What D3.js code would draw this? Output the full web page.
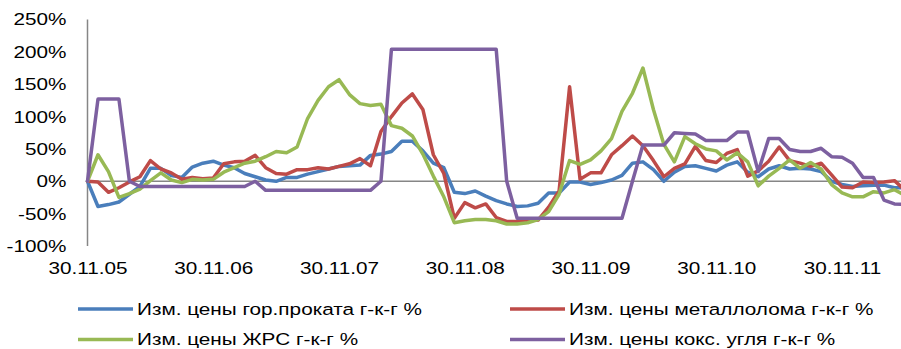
<!DOCTYPE html>
<html>
<head>
<meta charset="utf-8">
<script src="https://cdn.jsdelivr.net/npm/d3@7"></script>
<style>
  html, body { margin: 0; padding: 0; background: #fff; }
  svg { display: block; font-family: "Liberation Sans", Arial, sans-serif; }
</style>
</head>
<body>
<svg id="chart" width="901" height="349"></svg>
<script>
// ---------- DATA ----------
const categories = [
  "30.11.05","31.12.05",
  "31.01.06","28.02.06","31.03.06","30.04.06","31.05.06","30.06.06","31.07.06","31.08.06","30.09.06","31.10.06","30.11.06","31.12.06",
  "31.01.07","28.02.07","31.03.07","30.04.07","31.05.07","30.06.07","31.07.07","31.08.07","30.09.07","31.10.07","30.11.07","31.12.07",
  "31.01.08","29.02.08","31.03.08","30.04.08","31.05.08","30.06.08","31.07.08","31.08.08","30.09.08","31.10.08","30.11.08","31.12.08",
  "31.01.09","28.02.09","31.03.09","30.04.09","31.05.09","30.06.09","31.07.09","31.08.09","30.09.09","31.10.09","30.11.09","31.12.09",
  "31.01.10","28.02.10","31.03.10","30.04.10","31.05.10","30.06.10","31.07.10","31.08.10","30.09.10","31.10.10","30.11.10","31.12.10",
  "31.01.11","28.02.11","31.03.11","30.04.11","31.05.11","30.06.11","31.07.11","31.08.11","30.09.11","31.10.11","30.11.11","31.12.11",
  "31.01.12","29.02.12","31.03.12","30.04.12","31.05.12"
];

const tickLabels = ["30.11.05","30.11.06","30.11.07","30.11.08","30.11.09","30.11.10","30.11.11"];
const yTicks = [-100, -50, 0, 50, 100, 150, 200, 250];

const seriesNames = [
  "Изм. цены гор.проката г-к-г %",
  "Изм. цены металлолома г-к-г %",
  "Изм. цены ЖРС г-к-г %",
  "Изм. цены кокс. угля г-к-г %"
];

// hot-rolled steel
const hotRolled = [0,-39,-36,-32,-20,-8,20,20,9,6,22,28,31,25,21,12,7,2,0,6,6,11,15,19,23,24,25,40,42,46,62,62,47,28,21,-17,-19,-15,-23,-30,-35,-39,-38,-34,-18,-18,-1,-1,-5,-2,2,9,28,30,18,0,14,23,24,20,16,25,30,14,7,19,24,19,20,19,15,0,-5,-8,-7,-6,-6,-10,-10];
// scrap
const scrap = [0,-1,-17,-10,-1,7,32,19,13,3,6,4,5,27,30,31,40,21,12,11,18,18,21,19,23,27,35,24,77,100,121,135,111,41,12,-57,-33,-41,-35,-56,-62,-62,-61,-60,-40,-15,146,3,13,13,41,55,70,55,32,7,20,27,54,32,29,43,49,8,16,31,53,32,28,23,28,10,-9,-10,-1,-2,-1,1,-14];
// iron ore
const ironOre = [0,41,15,-25,-19,-12,1,13,2,-2,3,2,3,14,21,28,31,38,46,44,53,97,125,146,157,134,120,117,119,86,82,70,42,8,-24,-64,-61,-59,-59,-61,-66,-66,-64,-59,-47,-20,32,26,33,47,66,108,136,175,111,57,30,69,58,50,47,33,44,30,-7,8,20,33,20,29,19,-5,-18,-24,-24,-16,-18,-13,-22];
// coking coal
const cokingCoal = [0,127,127,127,0,-8,-8,-8,-8,-8,-8,-8,-8,-8,-8,-8,0,-14,-14,-14,-14,-14,-14,-14,-14,-14,-14,-14,0,204,204,204,204,204,204,204,204,204,204,204,0,-57,-57,-57,-57,-57,-57,-57,-57,-57,-57,-57,0,56,56,56,75,74,73,63,63,63,76,76,15,66,66,49,46,46,51,38,37,28,6,6,-29,-35,-36];

const seriesValues = [hotRolled, scrap, ironOre, cokingCoal];
const seriesColors = ["#4A7EBB", "#BE4B48", "#98B954", "#7D60A0"];

// ---------- LAYOUT ----------
const W = 901, H = 349;
const plotLeft = 87.5, step = 10.48;
const yTop = 19.5, yBottom = 246;
const FS = 17, SX = 1.22;
const axisColor = "#868686";

const svg = d3.select("#chart");

const x = d3.scaleLinear()
  .domain([0, categories.length - 1])
  .range([plotLeft, plotLeft + step * (categories.length - 1)]);

const y = d3.scaleLinear()
  .domain([-100, 250])
  .range([yBottom, yTop]);

// Y axis
const yAxis = svg.append("g")
  .attr("transform", `translate(${plotLeft},0)`)
  .call(d3.axisLeft(y).tickValues(yTicks).tickSize(0).tickFormat(d => d + "%"));
yAxis.select(".domain").remove();
yAxis.selectAll("text")
  .attr("x", 0)
  .attr("fill", "#000")
  .style("font-size", FS + "px")
  .attr("text-anchor", "end")
  .attr("transform", `translate(-21,0) scale(${SX},1)`);

svg.append("line")
  .attr("x1", plotLeft).attr("x2", plotLeft)
  .attr("y1", y(250)).attr("y2", y(-100))
  .attr("stroke", axisColor).attr("stroke-width", 1.5);

// X axis (labels at bottom)
const tickIdx = tickLabels.map(t => categories.indexOf(t));
const xAxis = svg.append("g")
  .attr("transform", `translate(0,${yBottom})`)
  .call(d3.axisBottom(x).tickValues(tickIdx).tickSize(0).tickPadding(16).tickFormat(i => categories[i]));
xAxis.select(".domain").remove();
xAxis.selectAll("text")
  .attr("fill", "#000")
  .style("font-size", FS + "px")
  .attr("transform", `scale(${SX},1)`);

// zero line
svg.append("line")
  .attr("x1", plotLeft).attr("x2", W)
  .attr("y1", y(0)).attr("y2", y(0))
  .attr("stroke", axisColor).attr("stroke-width", 1.5);

// Series lines
const line = d3.line()
  .x((d, i) => x(i))
  .y(d => y(d));

seriesValues.forEach((vals, k) => {
  svg.append("path")
    .datum(vals)
    .attr("fill", "none")
    .attr("stroke", seriesColors[k])
    .attr("stroke-width", 3.5)
    .attr("stroke-linejoin", "round")
    .attr("stroke-linecap", "round")
    .attr("d", line);
});

// Legend
const legendPos = [
  {lx: 78, ly: 309},
  {lx: 510, ly: 309},
  {lx: 78, ly: 339.5},
  {lx: 510, ly: 339.5}
];
seriesNames.forEach((name, k) => {
  const p = legendPos[k];
  const g = svg.append("g");
  g.append("line")
    .attr("x1", p.lx).attr("x2", p.lx + 55)
    .attr("y1", p.ly).attr("y2", p.ly)
    .attr("stroke", seriesColors[k]).attr("stroke-width", 3.5);
  g.append("text")
    .attr("transform", `translate(${p.lx + 59},${p.ly + 5.5}) scale(${SX},1)`)
    .style("font-size", FS + "px")
    .attr("fill", "#000")
    .text(name);
});
</script>
</body>
</html>
